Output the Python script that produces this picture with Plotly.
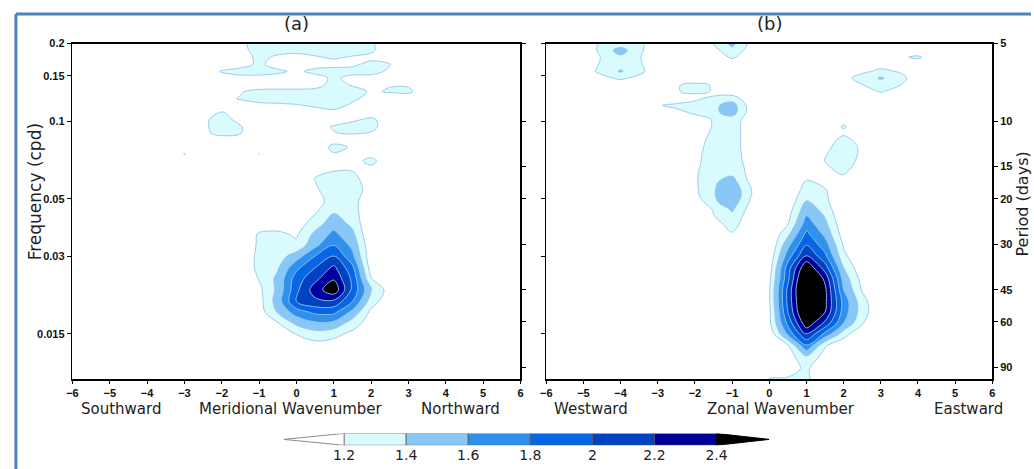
import numpy as np
import plotly.graph_objects as go

W, H = 1034, 469

# ---------------- data ----------------
levels = [1.2, 1.4, 1.6, 1.8, 2.0, 2.2, 2.4]
level_labels = ["1.2", "1.4", "1.6", "1.8", "2", "2.2", "2.4"]
band_colors = ["#dafbfe", "#88c7f6", "#2f90ee", "#0866e4", "#0042c2", "#00009c"]
over_color = "#000000"
under_color = "#ffffff"

freq_ticks = [0.2, 0.15, 0.1, 0.05, 0.03, 0.015]
freq_labels = ["0.2", "0.15", "0.1", "0.05", "0.03", "0.015"]
period_ticks = [5, 10, 15, 20, 30, 45, 60, 90]
wavenumbers = list(range(-6, 7))
freq_range = [0.01, 0.2]
cbar_range = [1.005, 2.57]

# ----- panel (a): meridional wavenumber-frequency field -----
a_blob_x = [-2, -1.5, -1, -0.5, 0, 0.5, 1, 1.5, 2, 2.5, 3]
a_blob_f = [0.0122, 0.0135, 0.0150, 0.0165, 0.0182, 0.0200, 0.0222, 0.0245, 0.0270, 0.0300,
            0.0330, 0.0365, 0.0400, 0.0445, 0.0490, 0.0540, 0.0600, 0.0665, 0.0735]
a_blob_z = [
    [1.0, 1.0, 1.0, 1.0, 1.0, 1.0, 1.0, 1.0, 1.0, 1.0, 1.0],
    [1.0, 1.0, 1.0, 1.0, 1.08, 1.12, 1.1, 1.05, 1.0, 1.0, 1.0],
    [1.0, 1.0, 1.0, 1.1, 1.21, 1.32, 1.27, 1.15, 1.0, 1.0, 1.0],
    [1.0, 1.0, 1.05, 1.19, 1.45, 1.57, 1.55, 1.3, 1.1, 1.0, 1.0],
    [1.0, 1.0, 1.1, 1.42, 1.7, 1.85, 1.85, 1.55, 1.15, 1.0, 1.0],
    [1.0, 1.0, 1.12, 1.5, 2.0, 2.15, 2.15, 1.8, 1.3, 1.05, 1.0],
    [1.0, 1.0, 1.15, 1.45, 1.95, 2.3, 2.55, 1.95, 1.42, 1.1, 1.0],
    [1.0, 1.0, 1.21, 1.45, 1.9, 2.15, 2.38, 1.95, 1.21, 1.0, 1.0],
    [1.0, 1.05, 1.25, 1.38, 1.75, 2.0, 2.25, 1.85, 1.1, 1.0, 1.0],
    [1.0, 1.05, 1.25, 1.3, 1.5, 1.8, 2.0, 1.65, 1.05, 1.0, 1.0],
    [1.0, 1.05, 1.23, 1.22, 1.25, 1.55, 1.8, 1.55, 1.05, 1.0, 1.0],
    [1.0, 1.05, 1.22, 1.24, 1.17, 1.45, 1.65, 1.45, 1.0, 1.0, 1.0],
    [1.0, 1.0, 1.1, 1.1, 1.1, 1.3, 1.52, 1.35, 1.0, 1.0, 1.0],
    [1.0, 1.0, 1.0, 1.0, 1.0, 1.18, 1.38, 1.3, 1.0, 1.0, 1.0],
    [1.0, 1.0, 1.0, 1.0, 1.0, 1.1, 1.3, 1.3, 1.0, 1.0, 1.0],
    [1.0, 1.0, 1.0, 1.0, 1.0, 1.17, 1.3, 1.32, 1.1, 1.0, 1.0],
    [1.0, 1.0, 1.0, 1.0, 1.0, 1.21, 1.28, 1.28, 1.05, 1.0, 1.0],
    [1.0, 1.0, 1.0, 1.0, 1.0, 1.0, 1.15, 1.15, 1.0, 1.0, 1.0],
    [1.0, 1.0, 1.0, 1.0, 1.0, 1.0, 1.0, 1.0, 1.0, 1.0, 1.0],
]

a_top_x = [-3.5, -3, -2.5, -2, -1.5, -1, -0.5, 0, 0.5, 1, 1.5, 2, 2.5, 3, 3.5]
a_top_f = [0.0620, 0.0659, 0.0701, 0.0746, 0.0793, 0.0844, 0.0897, 0.0954, 0.1015, 0.108, 0.115,
           0.122, 0.130, 0.138, 0.147, 0.156, 0.166, 0.177, 0.188, 0.200, 0.220]
a_top_z = [
    [1.0, 1.0, 1.0, 1.0, 1.0, 1.0, 1.0, 1.0, 1.0, 1.0, 1.0, 1.0, 1.0, 1.0, 1.0],
    [1.0, 1.0, 1.0, 1.0, 1.0, 1.0, 1.0, 1.0, 1.0, 1.05, 1.0, 1.15, 1.0, 1.0, 1.0],
    [1.0, 1.0, 1.0, 1.0, 1.0, 1.0, 1.0, 1.0, 1.0, 1.0, 1.1, 1.28, 1.0, 1.0, 1.0],
    [1.0, 1.21, 1.0, 1.0, 1.0, 1.205, 1.0, 1.0, 1.0, 1.18, 1.1, 1.1, 1.0, 1.0, 1.0],
    [1.0, 1.0, 1.0, 1.0, 1.0, 1.0, 1.0, 1.0, 1.0, 1.28, 1.17, 1.0, 1.0, 1.0, 1.0],
    [1.0, 1.0, 1.0, 1.0, 1.0, 1.0, 1.0, 1.0, 1.0, 1.1, 1.0, 1.0, 1.0, 1.0, 1.0],
    [1.0, 1.0, 1.12, 1.3, 1.21, 1.0, 1.0, 1.0, 1.05, 1.19, 1.22, 1.18, 1.0, 1.0, 1.0],
    [1.0, 1.0, 1.15, 1.32, 1.22, 1.0, 1.0, 1.0, 1.1, 1.22, 1.3, 1.28, 1.05, 1.0, 1.0],
    [1.0, 1.0, 1.15, 1.3, 1.12, 1.0, 1.0, 1.0, 1.0, 1.05, 1.15, 1.25, 1.05, 1.0, 1.0],
    [1.0, 1.0, 1.1, 1.22, 1.1, 1.0, 1.05, 1.05, 1.1, 1.12, 1.05, 1.05, 1.0, 1.0, 1.0],
    [1.0, 1.0, 1.0, 1.0, 1.05, 1.12, 1.15, 1.18, 1.23, 1.3, 1.15, 1.0, 1.0, 1.0, 1.0],
    [1.0, 1.0, 1.0, 1.12, 1.22, 1.3, 1.3, 1.3, 1.3, 1.35, 1.25, 1.1, 1.0, 1.0, 1.0],
    [1.0, 1.0, 1.0, 1.1, 1.18, 1.28, 1.3, 1.3, 1.3, 1.35, 1.3, 1.17, 1.22, 1.26, 1.0],
    [1.0, 1.0, 1.0, 1.0, 1.05, 1.05, 1.05, 1.05, 1.1, 1.3, 1.18, 1.08, 1.19, 1.17, 1.0],
    [1.0, 1.0, 1.0, 1.1, 1.12, 1.12, 1.1, 1.05, 1.1, 1.25, 1.12, 1.1, 1.0, 1.0, 1.0],
    [1.0, 1.0, 1.05, 1.22, 1.3, 1.3, 1.25, 1.15, 1.27, 1.3, 1.3, 1.3, 1.15, 1.0, 1.0],
    [1.0, 1.0, 1.0, 1.05, 1.1, 1.25, 1.1, 1.0, 1.1, 1.12, 1.15, 1.28, 1.21, 1.0, 1.0],
    [1.0, 1.0, 1.0, 1.0, 1.05, 1.28, 1.15, 1.1, 1.18, 1.23, 1.18, 1.12, 1.05, 1.0, 1.0],
    [1.0, 1.0, 1.0, 1.0, 1.12, 1.3, 1.3, 1.28, 1.28, 1.3, 1.3, 1.25, 1.0, 1.0, 1.0],
    [1.0, 1.0, 1.0, 1.0, 1.15, 1.3, 1.3, 1.3, 1.3, 1.3, 1.3, 1.25, 1.0, 1.0, 1.0],
    [1.0, 1.0, 1.0, 1.0, 1.15, 1.3, 1.3, 1.3, 1.3, 1.3, 1.3, 1.25, 1.0, 1.0, 1.0],
]

# ----- panel (b): zonal wavenumber-frequency field -----
b_blob_x = [-0.5, 0, 0.5, 1, 1.5, 2, 2.5, 3, 3.5]
b_blob_f = [0.0095, 0.0100, 0.0110, 0.0122, 0.0135, 0.0150, 0.0165, 0.0182, 0.0200, 0.0222, 0.0245,
            0.0270, 0.0300, 0.0330, 0.0365, 0.0400, 0.0445, 0.0490, 0.0540, 0.0600, 0.0665]
b_blob_z = [
    [1.05, 1.21, 1.22, 1.25, 1.0, 1.0, 1.0, 1.0, 1.0],
    [1.05, 1.21, 1.22, 1.25, 1.0, 1.0, 1.0, 1.0, 1.0],
    [1.0, 1.0, 1.12, 1.24, 1.0, 1.0, 1.0, 1.0, 1.0],
    [1.0, 1.0, 1.1, 1.36, 1.12, 1.0, 1.0, 1.0, 1.0],
    [1.0, 1.0, 1.18, 1.78, 1.22, 1.05, 1.0, 1.0, 1.0],
    [1.0, 1.05, 1.65, 2.22, 1.75, 1.3, 1.0, 1.0, 1.0],
    [1.0, 1.15, 1.85, 2.55, 2.15, 1.6, 1.22, 1.0, 1.0],
    [1.0, 1.15, 2.0, 2.75, 2.4, 1.7, 1.3, 1.0, 1.0],
    [1.0, 1.18, 2.05, 2.8, 2.45, 1.72, 1.28, 1.0, 1.0],
    [1.0, 1.18, 2.05, 2.85, 2.45, 1.6, 1.18, 1.0, 1.0],
    [1.0, 1.15, 1.95, 2.8, 2.35, 1.52, 1.12, 1.0, 1.0],
    [1.0, 1.1, 1.9, 2.6, 2.1, 1.4, 1.05, 1.0, 1.0],
    [1.0, 1.05, 1.7, 2.22, 1.85, 1.25, 1.0, 1.0, 1.0],
    [1.0, 1.0, 1.55, 2.0, 1.7, 1.18, 1.0, 1.0, 1.0],
    [1.0, 1.0, 1.35, 1.85, 1.55, 1.1, 1.0, 1.0, 1.0],
    [1.0, 1.0, 1.19, 1.7, 1.45, 1.05, 1.0, 1.0, 1.0],
    [1.0, 1.0, 1.12, 1.55, 1.35, 1.0, 1.0, 1.0, 1.0],
    [1.0, 1.0, 1.05, 1.41, 1.25, 1.0, 1.0, 1.0, 1.0],
    [1.0, 1.0, 1.0, 1.3, 1.22, 1.0, 1.0, 1.0, 1.0],
    [1.0, 1.0, 1.0, 1.18, 1.1, 1.0, 1.0, 1.0, 1.0],
    [1.0, 1.0, 1.0, 1.0, 1.0, 1.0, 1.0, 1.0, 1.0],
]

b_p1_x = [-5, -4.5, -4, -3.5, -3]
b_p1_f = [0.138, 0.147, 0.156, 0.166, 0.177, 0.188, 0.200, 0.220]
b_p1_z = [
    [1.0, 1.0, 1.0, 1.0, 1.0],
    [1.0, 1.12, 1.26, 1.12, 1.0],
    [1.05, 1.28, 1.42, 1.28, 1.02],
    [1.02, 1.24, 1.33, 1.24, 1.0],
    [1.0, 1.22, 1.36, 1.22, 1.0],
    [1.0, 1.28, 1.48, 1.26, 1.0],
    [1.05, 1.25, 1.3, 1.27, 1.0],
    [1.05, 1.25, 1.3, 1.27, 1.0],
]

b_p2_x = [-2, -1.5, -1, -0.5, 0]
b_p2_f = [0.166, 0.177, 0.188, 0.200, 0.220]
b_p2_z = [
    [1.0, 1.0, 1.0, 1.0, 1.0],
    [1.0, 1.0, 1.25, 1.0, 1.0],
    [1.0, 1.12, 1.35, 1.1, 1.0],
    [1.0, 1.21, 1.45, 1.15, 1.0],
    [1.0, 1.21, 1.5, 1.15, 1.0],
]

b_p3_x = [-3, -2.5, -2, -1.5, -1]
b_p3_f = [0.122, 0.130, 0.138, 0.147]
b_p3_z = [
    [1.0, 1.0, 1.0, 1.0, 1.0],
    [1.0, 1.18, 1.27, 1.18, 1.0],
    [1.0, 1.18, 1.27, 1.18, 1.0],
    [1.0, 1.0, 1.0, 1.0, 1.0],
]

b_p4_x = [-3, -2.5, -2, -1.5, -1, -0.5, 0]
b_p4_f = [0.0335, 0.0356, 0.0379, 0.0403, 0.0428, 0.0456, 0.0485, 0.0516, 0.0548, 0.0583, 0.0620,
          0.0659, 0.0701, 0.0746, 0.0793, 0.0844, 0.0897, 0.0954, 0.1015, 0.108, 0.115, 0.122, 0.130]
b_p4_z = [
    [1.0, 1.0, 1.0, 1.0, 1.0, 1.0, 1.0],
    [1.0, 1.0, 1.0, 1.0, 1.12, 1.0, 1.0],
    [1.0, 1.0, 1.0, 1.05, 1.24, 1.0, 1.0],
    [1.0, 1.0, 1.0, 1.12, 1.3, 1.05, 1.0],
    [1.0, 1.0, 1.0, 1.19, 1.35, 1.08, 1.0],
    [1.0, 1.0, 1.0, 1.22, 1.43, 1.12, 1.0],
    [1.0, 1.0, 1.05, 1.36, 1.52, 1.17, 1.0],
    [1.0, 1.0, 1.15, 1.38, 1.58, 1.21, 1.0],
    [1.0, 1.0, 1.16, 1.38, 1.55, 1.21, 1.0],
    [1.0, 1.0, 1.17, 1.37, 1.48, 1.15, 1.0],
    [1.0, 1.0, 1.17, 1.35, 1.38, 1.13, 1.0],
    [1.0, 1.0, 1.16, 1.32, 1.35, 1.12, 1.0],
    [1.0, 1.0, 1.15, 1.3, 1.32, 1.1, 1.0],
    [1.0, 1.0, 1.14, 1.3, 1.3, 1.1, 1.0],
    [1.0, 1.0, 1.13, 1.28, 1.3, 1.08, 1.0],
    [1.0, 1.0, 1.12, 1.26, 1.3, 1.08, 1.0],
    [1.0, 1.0, 1.08, 1.24, 1.3, 1.08, 1.0],
    [1.0, 1.0, 1.05, 1.22, 1.3, 1.08, 1.0],
    [1.0, 1.0, 1.075, 1.22, 1.3, 1.1, 1.0],
    [1.0, 1.12, 1.25, 1.35, 1.5, 1.1, 1.0],
    [1.18, 1.26, 1.3, 1.35, 1.5, 1.1, 1.0],
    [1.0, 1.05, 1.15, 1.3, 1.32, 1.05, 1.0],
    [1.0, 1.0, 1.0, 1.05, 1.08, 1.0, 1.0],
]

b_p5_x = [2, 2.5, 3, 3.5, 4, 4.5]
b_p5_f = [0.122, 0.130, 0.138, 0.147, 0.156, 0.166, 0.177, 0.188]
b_p5_z = [
    [1.0, 1.0, 1.0, 1.0, 1.0, 1.0],
    [1.0, 1.05, 1.22, 1.05, 1.0, 1.0],
    [1.0, 1.19, 1.32, 1.21, 1.0, 1.0],
    [1.12, 1.3, 1.42, 1.3, 1.05, 1.0],
    [1.0, 1.15, 1.25, 1.18, 1.0, 1.0],
    [1.0, 1.0, 1.12, 1.0, 1.0, 1.0],
    [1.0, 1.0, 1.0, 1.15, 1.25, 1.0],
    [1.0, 1.0, 1.0, 1.0, 1.0, 1.0],
]

b_p6_x = [1, 1.5, 2, 2.5, 3]
b_p6_f = [0.0583, 0.0620, 0.0659, 0.0701, 0.0746, 0.0793, 0.0844, 0.0897, 0.0954, 0.1015, 0.108]
b_p6_z = [
    [1.0, 1.0, 1.0, 1.0, 1.0],
    [1.0, 1.05, 1.21, 1.0, 1.0],
    [1.0, 1.15, 1.3, 1.05, 1.0],
    [1.0, 1.21, 1.33, 1.12, 1.0],
    [1.0, 1.18, 1.35, 1.15, 1.0],
    [1.0, 1.12, 1.35, 1.15, 1.0],
    [1.0, 1.05, 1.3, 1.08, 1.0],
    [1.0, 1.0, 1.15, 1.0, 1.0],
    [1.0, 1.0, 1.23, 1.0, 1.0],
    [1.0, 1.0, 1.1, 1.0, 1.0],
    [1.0, 1.0, 1.0, 1.0, 1.0],
]

# ---------------- styling ----------------
FONT = "DejaVu Sans"
step = levels[1] - levels[0]
n_lev = len(levels)
fill_cols = ["rgba(255,255,255,0)"] + band_colors + [over_color]
colorscale = []
for k, c in enumerate(fill_cols):
    lo = max(0.0, (k - 0.5) / n_lev)
    hi = min(1.0, (k + 0.5) / n_lev)
    colorscale += [[lo, c], [hi, c]]

fig = go.Figure()


def add_field(x, f, z, xa, ya):
    fig.add_trace(go.Contour(
        x=x, y=f, z=z, xaxis=xa, yaxis=ya,
        autocontour=False,
        contours=dict(start=levels[0], end=levels[-1], size=step,
                      coloring="fill", showlines=True),
        colorscale=colorscale, showscale=False,
        line=dict(color="#94c5ea", width=0.9, smoothing=1.0),
        hoverinfo="skip", showlegend=False))


add_field(a_top_x, a_top_f, a_top_z, "x", "y")
add_field(a_blob_x, a_blob_f, a_blob_z, "x", "y")
for gx, gf, gz in [(b_p1_x, b_p1_f, b_p1_z), (b_p2_x, b_p2_f, b_p2_z), (b_p3_x, b_p3_f, b_p3_z),
                   (b_p4_x, b_p4_f, b_p4_z), (b_p5_x, b_p5_f, b_p5_z), (b_p6_x, b_p6_f, b_p6_z),
                   (b_blob_x, b_blob_f, b_blob_z)]:
    add_field(gx, gf, gz, "x2", "y2")

# invisible traces so the overlay (period) axes are drawn
fig.add_trace(go.Scatter(x=[None], y=[None], xaxis="x", yaxis="y3", showlegend=False, hoverinfo="skip"))
fig.add_trace(go.Scatter(x=[None], y=[None], xaxis="x2", yaxis="y4", showlegend=False, hoverinfo="skip"))

# ---------- custom colour bar (GrADS style with triangular ends) ----------
for lo, hi, col in zip(levels[:-1], levels[1:], band_colors):
    fig.add_trace(go.Scatter(x=[lo, hi, hi, lo, lo], y=[0, 0, 1, 1, 0], mode="lines",
                             fill="toself", fillcolor=col, line=dict(color="#5c5c5c", width=0.8),
                             xaxis="x3", yaxis="y5", hoverinfo="skip", showlegend=False))
fig.add_trace(go.Scatter(x=[levels[0], cbar_range[0], levels[0], levels[0]], y=[0, 0.5, 1, 0],
                         mode="lines", fill="toself", fillcolor=under_color,
                         line=dict(color="#8a8a8a", width=1), xaxis="x3", yaxis="y5",
                         hoverinfo="skip", showlegend=False))
fig.add_trace(go.Scatter(x=[levels[-1], cbar_range[1], levels[-1], levels[-1]], y=[0, 0.5, 1, 0],
                         mode="lines", fill="toself", fillcolor=over_color,
                         line=dict(color="#000000", width=1), xaxis="x3", yaxis="y5",
                         hoverinfo="skip", showlegend=False))

# ---------------- layout ----------------
xa_dom = [67 / W, 519 / W]
xb_dom = [545 / W, 995 / W]
y_dom = [1 - 378 / H, 1 - 38 / H]
yr = [float(np.log10(freq_range[0])), float(np.log10(freq_range[1]))]
period_freqs = [1.0 / p for p in period_ticks]
period_text = [str(p) for p in period_ticks]

tick_font = dict(family="Liberation Sans", size=11, color="#111", weight="bold")
common_x = dict(range=[-6, 6], tickmode="array", tickvals=wavenumbers, ticks="outside",
                ticklen=3, tickwidth=1, tickcolor="black", showline=True, linecolor="black",
                linewidth=1.6, mirror=True, showgrid=False, zeroline=False, tickfont=tick_font)
common_y = dict(type="log", range=yr, showline=True, linecolor="black", linewidth=1.6,
                showgrid=False, zeroline=False, ticks="outside", ticklen=4, tickwidth=1,
                tickcolor="black", tickfont=tick_font)

fig.update_layout(
    width=W, height=H, autosize=False,
    margin=dict(l=0, r=0, t=0, b=0),
    paper_bgcolor="white", plot_bgcolor="rgba(0,0,0,0)",
    showlegend=False,
    xaxis=dict(domain=xa_dom, anchor="y", **common_x),
    yaxis=dict(domain=y_dom, anchor="x", tickmode="array", tickvals=freq_ticks,
               ticktext=freq_labels, **common_y),
    yaxis3=dict(overlaying="y", side="right", anchor="x", tickmode="array",
                tickvals=period_freqs, showticklabels=False, **common_y),
    xaxis2=dict(domain=xb_dom, anchor="y2", **common_x),
    yaxis2=dict(domain=y_dom, anchor="x2", tickmode="array", tickvals=freq_ticks,
                showticklabels=False, **common_y),
    yaxis4=dict(overlaying="y2", side="right", anchor="x2", tickmode="array",
                tickvals=period_freqs, ticktext=period_text, **common_y),
    xaxis3=dict(domain=[280 / W, 770 / W], anchor="y5", range=cbar_range, tickmode="array",
                tickvals=levels, ticktext=level_labels, ticks="", showline=False,
                showgrid=False, zeroline=False,
                tickfont=dict(family=FONT, size=14, color="#222")),
    yaxis5=dict(domain=[1 - 445 / H, 1 - 433 / H], anchor="x3", range=[0, 1], visible=False),
)

ann_font = dict(family=FONT, size=15, color="#222")
sub_y = 1 - 408 / H
annotations = [
    dict(text="(a)", x=293 / W, y=1 - 18 / H, font=dict(family=FONT, size=18, color="#222")),
    dict(text="(b)", x=770 / W, y=1 - 18 / H, font=dict(family=FONT, size=18, color="#222")),
    dict(text="Frequency (cpd)", x=29 / W, y=1 - 188 / H, textangle=-90,
         font=dict(family=FONT, size=17, color="#222")),
    dict(text="Period (days)", x=1025 / W, y=1 - 201 / H, textangle=-90,
         font=dict(family=FONT, size=16, color="#222")),
    dict(text="Southward", x=116 / W, y=sub_y, font=ann_font),
    dict(text="Meridional Wavenumber", x=288 / W, y=sub_y, font=ann_font),
    dict(text="Northward", x=458 / W, y=sub_y, font=ann_font),
    dict(text="Westward", x=590 / W, y=sub_y, font=ann_font),
    dict(text="Zonal Wavenumber", x=782 / W, y=sub_y, font=ann_font),
    dict(text="Eastward", x=971 / W, y=sub_y, font=ann_font),
]
for a in annotations:
    a.update(xref="paper", yref="paper", showarrow=False, xanchor="center", yanchor="middle")
fig.update_layout(annotations=annotations)

# blue page frame (left and top edges)
border = "#4f81bd"
fig.add_shape(type="line", xref="paper", yref="paper", x0=10 / W, x1=10 / W, y0=0, y1=1 - 8 / H,
              line=dict(color=border, width=3))
fig.add_shape(type="line", xref="paper", yref="paper", x0=10 / W, x1=1, y0=1 - 8 / H, y1=1 - 8 / H,
              line=dict(color=border, width=3))

fig.write_html("out.html", config={"displayModeBar": False, "staticPlot": True},
               post_script="document.body.style.margin='0';document.body.style.overflow='hidden';")
